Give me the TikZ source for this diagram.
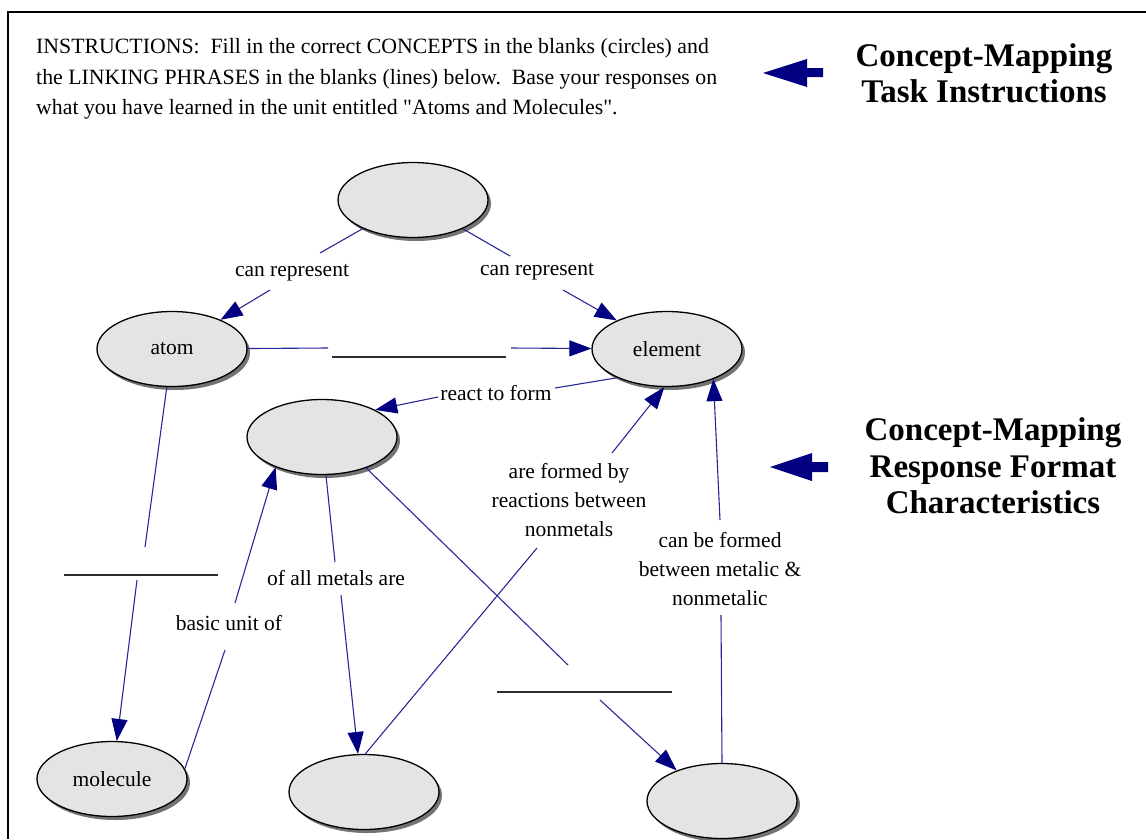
\documentclass[tikz,border=0pt]{standalone}
\usepackage{fontspec}
\setmainfont{Liberation Serif}
\usetikzlibrary{shapes.geometric,arrows.meta,shadows}
\definecolor{linknavy}{RGB}{40,40,150}
\definecolor{headnavy}{RGB}{0,0,128}
\definecolor{conceptfill}{RGB}{228,228,228}
\definecolor{blankink}{RGB}{45,45,45}
\begin{document}
\begin{tikzpicture}[x=1pt,y=-1pt,
  concept/.style={ellipse, draw=black, line width=1.3pt, fill=conceptfill,
    minimum width=150pt, minimum height=75pt, inner sep=0pt,
    font=\fontsize{21.5}{24}\selectfont,
    drop shadow={shadow xshift=3pt, shadow yshift=-3.5pt, fill=black!55, opacity=1}},
  lbl/.style={inner sep=0pt, align=center, font=\fontsize{21.5}{29}\selectfont},
  link/.style={draw=linknavy, line width=1.1pt},
  linkarrow/.style={link, -{Triangle[length=22pt,width=16pt,color=headnavy]}},
  blank/.style={draw=blankink, line width=1.6pt},
  heading/.style={align=center, font=\bfseries\fontsize{33}{36.5}\selectfont},
  bigarrow/.style={fill=headnavy}]

\useasboundingbox (0,0) rectangle (1146,839);

% frame
\draw[line width=2.5pt] (8,839) -- (8,12) -- (1146,12);

% instructions
\node[anchor=north west, inner sep=0pt, align=left,
      font=\fontsize{21.8}{30.5}\selectfont] (instr) at (36,38.5)
  {INSTRUCTIONS:\ \ Fill in the correct CONCEPTS in the blanks (circles) and\\
   the LINKING PHRASES in the blanks (lines) below.\ \ Base your responses on\\
   what you have learned in the unit entitled \textquotedbl Atoms and Molecules\textquotedbl.};

% side headings with their pointers
\node[heading] (hTask) at (984,73) {Concept-Mapping\\Task Instructions};
\node[heading] (hResp) at (993,466) {Concept-Mapping\\Response Format\\Characteristics};
\fill[bigarrow] (763,73) -- (807,59) -- (807,68) -- (823,68) -- (823,77) -- (807,77) -- (807,87) -- cycle;
\fill[bigarrow] (770,467) -- (812,453) -- (812,462) -- (828,462) -- (828,472) -- (812,472) -- (812,481) -- cycle;

% concepts
\node[concept] (top)      at (413,200) {};
\node[concept] (atom)     at (172,349) {atom};
\node[concept] (element)  at (667,349) {element};
\node[concept] (compound) at (322,437) {};
\node[concept] (molecule) at (112,779) {molecule};
\node[concept] (metal)    at (364,792) {};
\node[concept] (ionic)    at (722,801) {};

% linking phrases
\node[lbl] (lA) at (292,273) {can represent};
\node[lbl] (lB) at (537,272) {can represent};
\node[lbl] (lC) at (496,393) {react to form};
\node[lbl] (lD) at (569,500) {are formed by\\reactions between\\nonmetals};
\node[lbl] (lE) at (720,569) {can be formed\\between metalic \&\\nonmetalic};
\node[lbl] (lF) at (336,578) {of all metals are};
\node[lbl] (lG) at (229,623) {basic unit of};

% gap ends of the connectors
\coordinate (a1) at (320,253); \coordinate (a2) at (270,290);
\coordinate (b1) at (510,256); \coordinate (b2) at (563,290);
\coordinate (c1) at (555,388); \coordinate (c2) at (438,397);
\coordinate (e1) at (145,547); \coordinate (e2) at (137,580);
\coordinate (f1) at (225,650); \coordinate (f2) at (235,603);
\coordinate (g1) at (335,562); \coordinate (g2) at (341,595);
\coordinate (h1) at (537,548); \coordinate (h2) at (612,453);
\coordinate (i1) at (568,665); \coordinate (i2) at (600,700);
\coordinate (j1) at (328,348); \coordinate (j2) at (511,348);
\coordinate (k1) at (721,615); \coordinate (k2) at (720,520);

% blank lines for missing linking phrases
\coordinate (bl1a) at (332,357); \coordinate (bl1b) at (506,357);
\coordinate (bl2a) at (64,575);  \coordinate (bl2b) at (218,575);
\coordinate (bl3a) at (497,692); \coordinate (bl3b) at (672,692);
\draw[blank] (bl1a) -- (bl1b);
\draw[blank] (bl2a) -- (bl2b);
\draw[blank] (bl3a) -- (bl3b);

% connectors
\draw[link] (top) -- (a1);        \draw[linkarrow] (a2) -- (atom);
\draw[link] (top) -- (b1);        \draw[linkarrow] (b2) -- (element);
\draw[link] (atom) -- (j1);       \draw[linkarrow] (j2) -- (element);
\draw[link] (element.210) -- (c1);\draw[linkarrow] (c2) -- (compound.27);
\draw[link] (atom) -- (e1);       \draw[linkarrow] (e2) -- (molecule);
\draw[link] (molecule.8) -- (f1); \draw[linkarrow] (f2) -- (compound.213);
\draw[link] (compound) -- (g1);   \draw[linkarrow] (g2) -- (metal.99);
\draw[link] (metal.88) -- (h1);   \draw[linkarrow] (h2) -- (element.266);
\draw[link] (compound.-35) -- (i1);\draw[linkarrow] (i2) -- (ionic.146);
\draw[link] (ionic.north) -- (k1);\draw[linkarrow] (k2) -- (element.-33);
\end{tikzpicture}
\end{document}
